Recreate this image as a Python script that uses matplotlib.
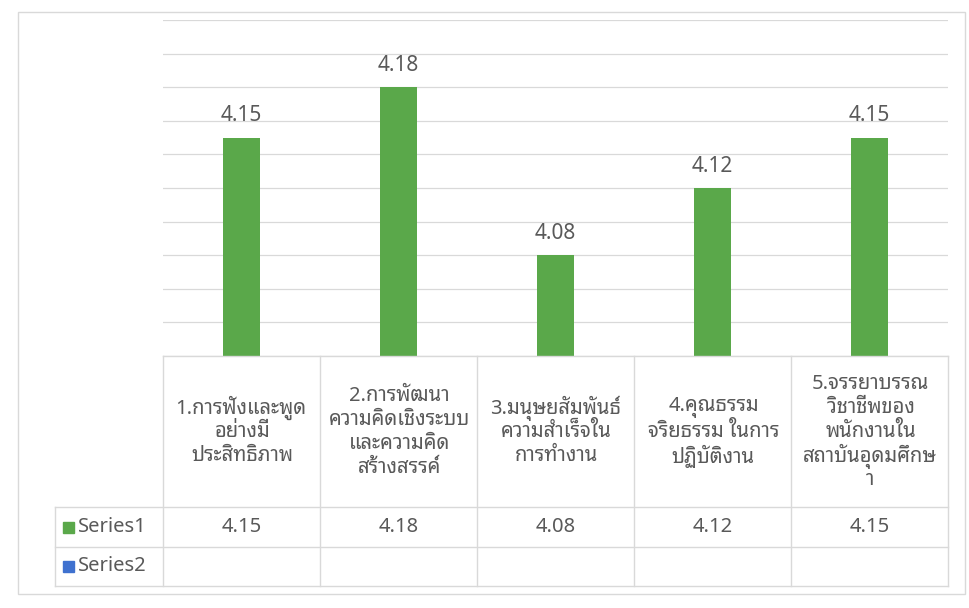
import matplotlib
matplotlib.use('Agg')
import matplotlib.pyplot as plt
import numpy as np
from matplotlib.patches import Rectangle

plt.rcParams['font.family'] = ['Noto Sans Thai Looped', 'DejaVu Sans']

# ข้อมูล
categories = [
    '1.การฟังและพูด\nอย่างมี\nประสิทธิภาพ',
    '2.การพัฒนา\nความคิดเชิงระบบ\nและความคิด\nสร้างสรรค์',
    '3.มนุษยสัมพันธ์\nความสำเร็จใน\nการทำงาน',
    '4.คุณธรรม\nจริยธรรม ในการ\nปฏิบัติงาน',
    '5.จรรยาบรรณ\nวิชาชีพของ\nพนักงานใน\nสถาบันอุดมศึกษ\nา',
]
series_names = ['Series1', 'Series2']
series1 = [4.15, 4.18, 4.08, 4.12, 4.15]
series2 = [None, None, None, None, None]

green = '#5AA84A'
blue = '#3F71CF'
grid_c = '#D9D9D9'
text_c = '#595959'


def ink_center(s, size):
    # ความกว้างสระ/วรรณยุกต์ไทยถูกวัดเกิน จึงวัดจากพิกเซลจริง
    f = plt.figure(figsize=(4, 1), dpi=100)
    f.text(0.05, 0.5, s, fontsize=size, ha='left', va='center', color='k')
    f.canvas.draw()
    img = np.asarray(f.canvas.buffer_rgba())[:, :, 0]
    cols = np.where((img < 200).any(axis=0))[0]
    plt.close(f)
    return (cols.min() + cols.max()) / 2 - 20


fig = plt.figure(figsize=(9.69, 6.08), dpi=100)

# กรอบแผนภูมิ
fig.patches.append(Rectangle((18 / 969, 1 - 594 / 608), 947 / 969, 582 / 608,
                             transform=fig.transFigure, fill=False,
                             edgecolor=grid_c, linewidth=1))

ax = fig.add_axes([163 / 969, 1 - 356 / 608, 785 / 969, 336 / 608])
x = range(len(categories))
bars = ax.bar(x, series1, width=0.24, color=green, zorder=3)
ax.set_ylim(4.02, 4.22)
ax.set_xlim(-0.5, len(categories) - 0.5)
ax.set_yticks([4.02 + 0.02 * i for i in range(11)])
ax.yaxis.grid(True, color=grid_c, linewidth=0.9)
ax.tick_params(left=False, bottom=False, labelleft=False, labelbottom=False)
for s in ax.spines.values():
    s.set_visible(False)
for b, v in zip(bars, series1):
    ax.annotate(f'{v:.2f}', (b.get_x() + b.get_width() / 2, v),
                xytext=(0, 8), textcoords='offset points',
                ha='center', va='bottom', fontsize=15, color=text_c)

# ตารางข้อมูล
tb = fig.add_axes([163 / 969, 1 - 586 / 608, 785 / 969, 230 / 608])
tb.set_xlim(-0.5, len(categories) - 0.5)
tb.set_ylim(230, 0)
tb.axis('off')
left = -1.19
n = len(categories)
kw = dict(color=grid_c, linewidth=1, clip_on=False)
tb.plot([-0.5, n - 0.5], [0, 0], **kw)
for yy in [151, 191, 230]:
    tb.plot([left, n - 0.5], [yy, yy], **kw)
for xx in [k - 0.5 for k in range(n + 1)]:
    tb.plot([xx, xx], [0, 230], **kw)
tb.plot([left, left], [151, 230], **kw)

# วางข้อความทีละบรรทัดให้อยู่กึ่งกลางคอลัมน์
line_h = 24
fs = 14.5
for i, lab in enumerate(categories):
    lines = lab.split('\n')
    y0 = 76 - line_h * (len(lines) - 1) / 2
    for k, ln in enumerate(lines):
        dx = -ink_center(ln, fs) * 72 / 100
        tb.annotate(ln, (i, y0 + k * line_h), xytext=(dx, 0),
                    textcoords='offset points', ha='left', va='center',
                    fontsize=fs, color=text_c)
    tb.text(i, 171, f'{series1[i]:.2f}', ha='center', va='center',
            fontsize=14.5, color=text_c)

for name, col, yy in zip(series_names, [green, blue], [171, 210]):
    tb.add_patch(Rectangle((left + 0.05, yy - 5.5), 0.07, 11, color=col, clip_on=False))
    tb.text(left + 0.15, yy, name, ha='left', va='center', fontsize=14.5, color=text_c)

fig.savefig('out.png')
